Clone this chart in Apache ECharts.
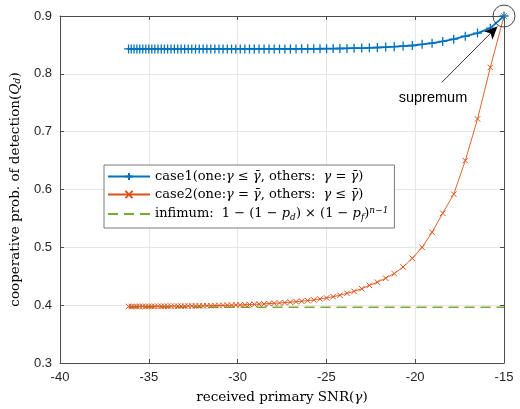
<!DOCTYPE html>
<html>
<head>
<meta charset="utf-8">
<script src="https://cdn.jsdelivr.net/npm/echarts@6/dist/echarts.min.js"></script>
<style>
  html, body { margin: 0; padding: 0; background: #fff; }
  #chart { width: 520px; height: 409px; }
</style>
</head>
<body>
<div id="chart"></div>
<script>
// received primary SNR (dB), shared by both cases
const snrDb = [
  -36.14, -35.99, -35.83, -35.67, -35.51, -35.34, -35.17, -35.00, -34.83, -34.66,
  -34.48, -34.30, -34.12, -33.94, -33.75, -33.56, -33.37, -33.18, -32.98, -32.78,
  -32.58, -32.37, -32.16, -31.94, -31.73, -31.51, -31.28, -31.05, -30.82, -30.58,
  -30.34, -30.10, -29.85, -29.59, -29.33, -29.06, -28.79, -28.51, -28.23, -27.94,
  -27.64, -27.34, -27.03, -26.71, -26.39, -26.05, -25.71, -25.36, -24.99, -24.62,
  -24.24, -23.84, -23.44, -23.01, -22.58, -22.13, -21.66, -21.18, -20.68, -20.16,
  -19.61, -19.05, -18.45, -17.83, -17.18, -16.49, -15.77, -15.00
]

// case1: one gamma <= bar gamma, others = bar gamma
const case1 = [
  0.843, 0.843, 0.843, 0.843, 0.843, 0.843, 0.843, 0.843, 0.843, 0.843,
  0.843, 0.843, 0.843, 0.843, 0.843, 0.843, 0.843, 0.843, 0.843, 0.843,
  0.843, 0.843, 0.843, 0.843, 0.843, 0.843, 0.843, 0.843, 0.843, 0.843,
  0.843, 0.843, 0.843, 0.843, 0.843, 0.843, 0.843, 0.843, 0.843, 0.843,
  0.843, 0.843, 0.8431, 0.8431, 0.8432, 0.8432, 0.8433, 0.8434, 0.8435, 0.8436,
  0.8438, 0.8440, 0.8443, 0.8446, 0.8450, 0.8455, 0.8462, 0.8470, 0.8480, 0.8490,
  0.8510, 0.8530, 0.8560, 0.8600, 0.8650, 0.8705, 0.8790, 0.9000
]

// case2: one gamma = bar gamma, others <= bar gamma
const case2 = [
  0.3977, 0.3977, 0.3977, 0.3977, 0.3978, 0.3978, 0.3978, 0.3979, 0.3979, 0.3979,
  0.3980, 0.3980, 0.3981, 0.3981, 0.3982, 0.3982, 0.3983, 0.3983, 0.3984, 0.3985,
  0.3986, 0.3987, 0.3988, 0.3989, 0.3990, 0.3991, 0.3993, 0.3994, 0.3996, 0.3998,
  0.4000, 0.4002, 0.4005, 0.4008, 0.4011, 0.4014, 0.4018, 0.4022, 0.4027, 0.4032,
  0.4038, 0.4045, 0.4052, 0.4060, 0.4069, 0.4079, 0.4091, 0.4108, 0.4125, 0.4147,
  0.4171, 0.4205, 0.4239, 0.4284, 0.4342, 0.4398, 0.4466, 0.4546, 0.4660, 0.4810,
  0.5000, 0.5260, 0.5590, 0.5920, 0.6500, 0.7220, 0.8110, 0.9000
]

const infimum = 0.3963
const supremumPoint = [-15, 0.9]

const xTicks = [-40, -35, -30, -25, -20, -15]
const yTicks = [0.3, 0.4, 0.5, 0.6, 0.7, 0.8, 0.9]

const BLUE = '#0072BD'
const ORANGE = '#D95319'
const GREEN = '#77AC30'
const AXIS = '#4d4d4d'
const TEXT = '#262626'
const SANS = 'Liberation Sans, Arial, sans-serif'
const SERIF = 'DejaVu Serif, serif'

const plusMark = 'path://M0,5L10,5M5,0L5,10'
const crossMark = 'path://M0,0L10,10M10,0L0,10'

const legendText = {
  case1: '{n|case1(one:}{i|γ}{n| ≤ }{i|γ\u0304}{n|, others:  }{i|γ}{n| = }{i|γ\u0304}{n|)}',
  case2: '{n|case2(one:}{i|γ}{n| = }{i|γ\u0304}{n|, others:  }{i|γ}{n| ≤ }{i|γ\u0304}{n|)}',
  infimum: '{n|infimum:  1 − (1 − }{i|p}{sub|d}{n|) × (1 − }{i|p}{sub|f}{n|)}{sup|n−1}'
}

const richMath = {
  n: { fontFamily: SERIF, fontSize: 13.5, color: '#000', lineHeight: 16 },
  i: { fontFamily: SERIF, fontSize: 13.5, fontStyle: 'italic', color: '#000', lineHeight: 16 },
  sub: { fontFamily: SERIF, fontSize: 9.5, fontStyle: 'italic', color: '#000', lineHeight: 4, verticalAlign: 'bottom' },
  sup: { fontFamily: SERIF, fontSize: 9.5, fontStyle: 'italic', color: '#000', lineHeight: 4, verticalAlign: 'top' }
}

// legend text is a little narrower than the axis names
const richLegend = {
  n: Object.assign({}, richMath.n, { fontSize: 13 }),
  i: Object.assign({}, richMath.i, { fontSize: 13 }),
  sub: Object.assign({}, richMath.sub, { fontSize: 9 }),
  sup: Object.assign({}, richMath.sup, { fontSize: 9 })
}

const chart = echarts.init(document.getElementById('chart'), null, { renderer: 'canvas' })

const sideAxis = {
  axisLine: { show: true, lineStyle: { color: AXIS, width: 1 } },
  axisTick: { show: true, inside: true, length: 4, lineStyle: { color: AXIS } },
  axisLabel: { show: false },
  splitLine: { show: false }
}

chart.setOption({
  animation: false,
  backgroundColor: '#fff',
  grid: { left: 60, right: 16, top: 16, bottom: 41, containLabel: false },
  legend: {
    left: 104,
    top: 165,
    orient: 'vertical',
    data: ['case1', 'case2', { name: 'infimum', itemStyle: { opacity: 0 } }],
    itemWidth: 42,
    itemHeight: 9,
    itemGap: 5,
    padding: [5, 6, 6, 3],
    backgroundColor: '#fff',
    borderColor: '#7a7a7a',
    borderWidth: 1,
    borderRadius: 0,
    formatter: (name) => legendText[name],
    textStyle: { fontFamily: SERIF, fontSize: 13, rich: richLegend }
  },
  xAxis: [
    {
      type: 'value',
      min: xTicks[0],
      max: xTicks[xTicks.length - 1],
      interval: xTicks[1] - xTicks[0],
      name: '{n|received primary SNR(}{i|γ}{n|)}',
      nameLocation: 'middle',
      nameGap: 26,
      nameTextStyle: { rich: richMath },
      axisLine: { show: true, onZero: false, lineStyle: { color: AXIS, width: 1 } },
      axisTick: { show: true, inside: true, length: 4, lineStyle: { color: AXIS } },
      axisLabel: { color: TEXT, fontFamily: SANS, fontSize: 13, margin: 8 },
      splitLine: { show: true, lineStyle: { color: '#e6e6e6', width: 1 } }
    },
    Object.assign({
      type: 'value',
      position: 'top',
      min: xTicks[0],
      max: xTicks[xTicks.length - 1],
      interval: xTicks[1] - xTicks[0]
    }, sideAxis)
  ],
  yAxis: [
    {
      type: 'value',
      min: yTicks[0],
      max: yTicks[yTicks.length - 1],
      interval: 0.1,
      name: '{n|cooperative prob. of detection(}{i|Q}{sub|d}{n|)}',
      nameLocation: 'middle',
      nameGap: 37,
      nameTextStyle: { rich: richMath },
      axisLine: { show: true, onZero: false, lineStyle: { color: AXIS, width: 1 } },
      axisTick: { show: true, inside: true, length: 4, lineStyle: { color: AXIS } },
      axisLabel: {
        color: TEXT, fontFamily: SANS, fontSize: 13, margin: 8,
        formatter: (v) => v.toFixed(1)
      },
      splitLine: { show: true, lineStyle: { color: '#e6e6e6', width: 1 } }
    },
    Object.assign({
      type: 'value',
      position: 'right',
      min: yTicks[0],
      max: yTicks[yTicks.length - 1],
      interval: 0.1
    }, sideAxis)
  ],
  series: [
    {
      name: 'case1',
      type: 'line',
      clip: false,
      data: snrDb.map((x, i) => [x, case1[i]]),
      symbol: plusMark,
      symbolSize: 9,
      lineStyle: { color: BLUE, width: 1.8 },
      itemStyle: { color: BLUE, borderColor: BLUE, borderWidth: 1.3 },
      z: 4,
      markPoint: {
        silent: true,
        data: [
          {
            coord: supremumPoint,
            symbol: 'circle',
            symbolSize: 22,
            itemStyle: { color: 'rgba(0,0,0,0)', borderColor: '#333', borderWidth: 0.9 },
            label: { show: false }
          },
          {
            coord: [-19.0, 0.758],
            symbol: 'rect',
            symbolSize: 1,
            itemStyle: { color: 'rgba(0,0,0,0)' },
            label: {
              show: true, position: 'inside', formatter: 'supremum',
              color: '#000', fontFamily: SANS, fontSize: 14.5
            }
          }
        ]
      },
      markLine: {
        silent: true,
        symbol: ['none', 'arrow'],
        symbolSize: [9, 13],
        label: { show: false },
        lineStyle: { color: '#000', width: 0.8, type: 'solid' },
        data: [[{ coord: [-18.51, 0.785] }, { coord: [-15.37, 0.882] }]]
      }
    },
    {
      name: 'case2',
      type: 'line',
      clip: false,
      data: snrDb.map((x, i) => [x, case2[i]]),
      symbol: crossMark,
      symbolSize: 5.5,
      lineStyle: { color: ORANGE, width: 0.9 },
      itemStyle: { color: ORANGE, borderColor: ORANGE, borderWidth: 1 },
      z: 3
    },
    {
      name: 'infimum',
      type: 'line',
      clip: false,
      data: [[snrDb[0], infimum], [snrDb[snrDb.length - 1], infimum]],
      symbol: 'none',
      lineStyle: { color: GREEN, width: 1.5, type: [10, 6] },
      itemStyle: { color: GREEN },
      z: 2
    }
  ]
})
</script>
</body>
</html>
